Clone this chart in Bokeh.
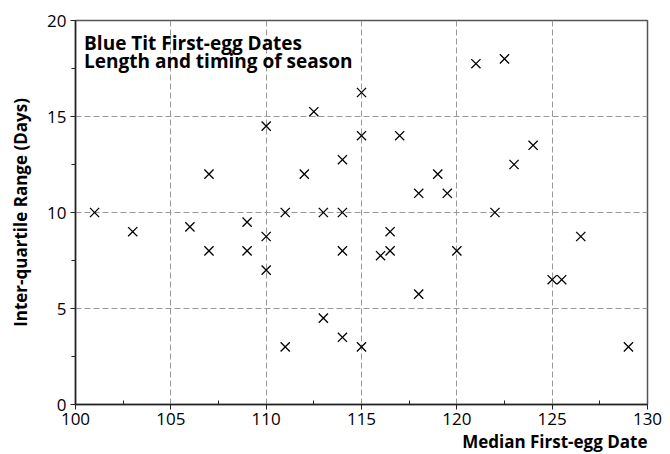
from bokeh.plotting import figure
from bokeh.models import Label, FixedTicker, Title
from bokeh.embed import file_html
from bokeh.resources import INLINE

median_date = [101, 103, 106, 107, 107, 109, 109, 110, 110, 110, 111, 111, 112, 112.5,
               113, 113, 114, 114, 114, 114, 115, 115, 115, 116, 116.5, 116.5, 117,
               118, 118, 119, 119.5, 120, 121, 122, 122.5, 123, 124, 125, 125.5, 126.5, 129]
iqr_days = [10, 9, 9.25, 12, 8, 9.5, 8, 14.5, 8.75, 7, 10, 3, 12, 15.25,
            10, 4.5, 12.75, 10, 8, 3.5, 16.25, 14, 3, 7.75, 9, 8, 14,
            11, 5.75, 12, 11, 8, 17.75, 10, 18, 12.5, 13.5, 6.5, 6.5, 8.75, 3]
x_ticks = [100, 105, 110, 115, 120, 125, 130]
y_ticks = [0, 5, 10, 15, 20]
title_lines = ["Blue Tit First-egg Dates", "Length and timing of season"]

FONT = "Open Sans"

p = figure(width=662, height=452, x_range=(100, 130), y_range=(0, 20),
           output_backend="svg", toolbar_location=None,
           min_border_left=75, min_border_top=20, min_border_right=15, min_border_bottom=10)
p.background_fill_color = "white"
p.outline_line_color = "#555555"
p.outline_line_width = 1.5

p.scatter(median_date, iqr_days, marker="x", size=13, line_color="black", line_width=1.3)

for ax, ticks in ((p.xaxis, x_ticks), (p.yaxis, y_ticks)):
    ax.ticker = FixedTicker(ticks=ticks, minor_ticks=[t + 2.5 for t in ticks[:-1]])
    ax.axis_line_color = "#222222"
    ax.axis_line_width = 1.5
    ax.major_tick_line_color = "#222222"
    ax.minor_tick_line_color = "#222222"
    ax.major_tick_out = 5
    ax.major_tick_in = 0
    ax.major_label_text_font = FONT
    ax.major_label_text_font_size = "17px"
    ax.major_label_text_color = "black"
    ax.axis_label_text_font = FONT
    ax.axis_label_text_font_style = "bold"
    ax.axis_label_text_font_size = "17px"
    ax.axis_label_text_color = "black"

p.xaxis.minor_tick_in = 4
p.xaxis.minor_tick_out = 0
p.yaxis.minor_tick_in = 0
p.yaxis.minor_tick_out = 4
p.xaxis.major_label_standoff = 3
p.yaxis.major_label_standoff = 4
p.yaxis.axis_label = "Inter-quartile Range (Days)"
p.yaxis.axis_label_standoff = 12

for g in (p.xgrid, p.ygrid):
    g.grid_line_color = "#999999"
    g.grid_line_dash = "6 3"
    g.grid_line_width = 1

p.add_layout(Title(text="Median First-egg Date", align="right", text_font=FONT,
                   text_font_style="bold", text_font_size="17px", text_color="black",
                   offset=0, standoff=0), "below")

for i, line in enumerate(title_lines):
    p.add_layout(Label(x=100.45, y=18.85 - i * 0.95, text=line, text_align="left",
                       text_baseline="alphabetic", text_font=FONT, text_font_style="bold",
                       text_font_size="19px", text_color="black"))

open("out.html", "w").write(file_html(p, INLINE))
